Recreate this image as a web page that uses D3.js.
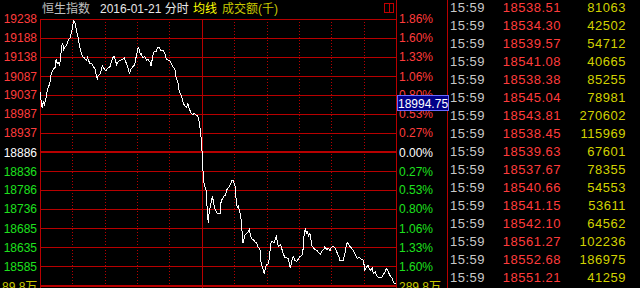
<!DOCTYPE html>
<html>
<head>
<meta charset="utf-8">
<script src="https://cdn.jsdelivr.net/npm/d3@7"></script>
<style>
  html, body { margin: 0; padding: 0; background: #000; }
  svg { display: block; }
  text { font-family: "Liberation Sans", Arial, "Noto Sans CJK SC", sans-serif; }
</style>
</head>
<body>
<div id="chart"></div>
<script>
// 분시 데이터 (09:30 이후 거래 분, 지수)
const prevClose = 18886.3;
const priceLine = [
  [0, 19044], [2, 19002], [3, 19020], [4, 19011], [6, 19035], [7, 19053], [9, 19066], [10, 19088],
  [12, 19103], [14, 19110], [15, 19132], [16, 19120], [17, 19123], [18, 19117], [19, 19129], [20, 19167],
  [21, 19173], [22, 19158], [23, 19163], [25, 19170], [26, 19180], [27, 19185], [28, 19189], [30, 19211],
  [31, 19233], [32, 19231], [33, 19220], [34, 19202], [35, 19194], [36, 19176], [37, 19163], [38, 19150],
  [40, 19136], [41, 19135], [43, 19128], [44, 19136], [46, 19121], [48, 19119], [49, 19114], [51, 19106],
  [52, 19092], [53, 19079], [54, 19088], [56, 19094], [57, 19106], [58, 19114], [60, 19103], [61, 19101],
  [63, 19108], [65, 19112], [66, 19123], [68, 19138], [69, 19138], [71, 19117], [72, 19123], [74, 19128],
  [75, 19129], [77, 19132], [78, 19135], [80, 19121], [82, 19106], [83, 19092], [84, 19103], [85, 19108],
  [87, 19114], [88, 19119], [89, 19136], [91, 19163], [92, 19158], [93, 19145], [94, 19147], [95, 19136],
  [97, 19138], [99, 19129], [100, 19132], [102, 19123], [103, 19114], [105, 19147], [106, 19152], [108, 19152],
  [109, 19163], [111, 19161], [112, 19154], [114, 19156], [116, 19145], [117, 19132], [119, 19129], [120, 19128],
  [122, 19119], [123, 19112], [125, 19106], [126, 19084], [128, 19068], [129, 19047], [131, 19035], [133, 19015],
  [134, 19009], [136, 19004], [137, 19015], [138, 19003], [139, 18996], [140, 18989], [142, 18985], [143, 18989],
  [145, 18982], [146, 18982], [147, 18975], [148, 18958], [149, 18936], [150, 18900], [151, 18839], [152, 18804],
  [153, 18793], [154, 18786], [155, 18733], [156, 18698], [157, 18733], [158, 18742], [159, 18760], [160, 18767],
  [161, 18751], [162, 18738], [163, 18731], [164, 18726], [165, 18723], [167, 18724], [168, 18760], [169, 18761],
  [170, 18768], [172, 18773], [173, 18786], [175, 18793], [176, 18799], [178, 18811], [179, 18812], [180, 18804],
  [181, 18795], [182, 18751], [183, 18740], [184, 18744], [185, 18729], [186, 18720], [187, 18689], [188, 18645],
  [189, 18654], [190, 18667], [192, 18672], [193, 18676], [194, 18682], [195, 18667], [196, 18658], [198, 18654],
  [199, 18650], [201, 18645], [202, 18636], [204, 18628], [205, 18592], [207, 18575], [208, 18564], [209, 18584],
  [210, 18588], [212, 18592], [213, 18619], [214, 18645], [215, 18650], [217, 18647], [218, 18654], [219, 18663],
  [220, 18650], [221, 18636], [223, 18641], [224, 18632], [226, 18614], [227, 18608], [229, 18606], [230, 18606],
  [232, 18579], [233, 18592], [234, 18606], [235, 18610], [236, 18601], [238, 18597], [240, 18606], [241, 18610],
  [243, 18614], [244, 18632], [245, 18676], [246, 18682], [247, 18672], [248, 18676], [249, 18663], [250, 18673],
  [251, 18658], [252, 18638], [253, 18635], [255, 18628], [257, 18626], [258, 18620], [260, 18617], [261, 18623],
  [263, 18629], [264, 18636], [266, 18628], [267, 18632], [269, 18626], [270, 18635], [272, 18636], [274, 18632],
  [275, 18623], [277, 18610], [278, 18599], [280, 18599], [281, 18599], [283, 18623], [284, 18643], [285, 18647],
  [287, 18638], [288, 18635], [290, 18628], [291, 18623], [293, 18612], [294, 18605], [296, 18608], [298, 18603],
  [299, 18603], [300, 18597], [301, 18575], [303, 18583], [304, 18588], [306, 18573], [308, 18579], [309, 18566],
  [311, 18570], [312, 18559], [314, 18555], [315, 18555], [317, 18555], [318, 18561], [320, 18570], [321, 18579],
  [323, 18570], [324, 18561], [326, 18555], [328, 18541], [329, 18538], [330, 18541]
];

// 축 라벨
const priceTicks = [19238, 19188, 19138, 19087, 19037, 18987, 18937, 18886, 18836, 18786, 18736, 18685, 18635, 18585];
const pctTicks = ["1.86%", "1.60%", "1.33%", "1.06%", "0.80%", "0.53%", "0.27%", "0.00%",
  "0.27%", "0.53%", "0.80%", "1.06%", "1.33%", "1.60%"];
const timeGrid = [0, 30, 60, 90, 120, 150, 180, 210, 240, 270, 300, 330];
const volLabel = "89.8万";
const volLabelRight = "289.8万";
const cursorPrice = 18994.75;

// 오른쪽 체결 내역
const tradeTimes = ["15:59", "15:59", "15:59", "15:59", "15:59", "15:59", "15:59", "15:59",
  "15:59", "15:59", "15:59", "15:59", "15:59", "15:59", "15:59", "15:59"];
const tradePrices = ["18538.51", "18534.30", "18539.57", "18541.08", "18538.38", "18545.04", "18543.81", "18538.45",
  "18539.63", "18537.67", "18540.66", "18541.15", "18542.10", "18561.27", "18552.68", "18551.21"];
const tradeVolumes = ["81063", "42502", "54712", "40665", "85255", "78981", "270602", "115969",
  "67601", "78355", "54553", "53611", "64562", "102236", "186975", "41259"];

const width = 640, height = 288;
const plotLeft = 40, plotRight = 396, plotTop = 19, plotBottom = 285;
const gridRed = "#b80000";
const upRed = "#ff3c3c";
const downGreen = "#1ee01e";

const svg = d3.select("#chart").append("svg")
  .attr("width", width).attr("height", height)
  .style("background", "#000");

const maxDev = prevClose * 0.0186;
const x = d3.scaleLinear().domain([0, 330]).range([plotLeft, plotRight]);
const y = d3.scaleLinear().domain([prevClose - maxDev, prevClose + maxDev]).range([plotBottom, plotTop]);

// 수평 그리드
svg.append("g").selectAll("line")
  .data(priceTicks)
  .join("line")
  .attr("x1", plotLeft).attr("x2", plotRight)
  .attr("y1", (d, i) => Math.round(y(d)) + (i === 7 ? 0 : 0.5))
  .attr("y2", (d, i) => Math.round(y(d)) + (i === 7 ? 0 : 0.5))
  .attr("stroke", gridRed)
  .attr("stroke-width", (d, i) => (i === 7 ? 2 : 1));

// 하단 굵은선
svg.append("line")
  .attr("x1", plotLeft).attr("x2", plotRight)
  .attr("y1", plotBottom + 1).attr("y2", plotBottom + 1)
  .attr("stroke", gridRed).attr("stroke-width", 2);

// 수직 그리드 (30분 간격, 점선)
svg.append("g").selectAll("line")
  .data(timeGrid)
  .join("line")
  .attr("x1", (d) => Math.round(x(d)) + 0.5)
  .attr("x2", (d) => Math.round(x(d)) + 0.5)
  .attr("y1", (d) => (d === 330 ? 0 : plotTop))
  .attr("y2", height)
  .attr("stroke", gridRed)
  .attr("stroke-width", 1)
  .attr("stroke-dasharray", (d) => (d === 0 || d === 150 || d === 330 ? null : "1,2"));

// 오른쪽 패널 경계
svg.append("line")
  .attr("x1", 447.5).attr("x2", 447.5)
  .attr("y1", 0).attr("y2", height)
  .attr("stroke", gridRed);

// 가격선
const line = d3.line()
  .x((d) => x(d[0]))
  .y((d) => y(d[1]));

svg.append("path")
  .datum(priceLine)
  .attr("d", line)
  .attr("fill", "none")
  .attr("stroke", "#ffffff")
  .attr("stroke-width", 1)
  .attr("shape-rendering", "crispEdges");

// 왼쪽 가격 라벨
svg.append("g").selectAll("text")
  .data(priceTicks)
  .join("text")
  .attr("x", 37)
  .attr("y", (d) => y(d) + 4.5)
  .attr("text-anchor", "end")
  .attr("font-size", 12)
  .attr("fill", (d, i) => (i < 7 ? upRed : i === 7 ? "#ffffff" : downGreen))
  .text((d) => d);

// 오른쪽 퍼센트 라벨
svg.append("g").selectAll("text")
  .data(pctTicks)
  .join("text")
  .attr("x", 399)
  .attr("y", (d, i) => y(priceTicks[i]) + 4.5)
  .attr("font-size", 12)
  .attr("fill", (d, i) => (i < 7 ? upRed : i === 7 ? "#ffffff" : downGreen))
  .text((d) => d);

// 커서 가격 박스
const cy = y(cursorPrice);
svg.append("rect")
  .attr("x", 397.5).attr("y", Math.round(cy) - 15.5)
  .attr("width", 51).attr("height", 15)
  .attr("fill", "#000088")
  .attr("stroke", "#6a6aff");
svg.append("text")
  .attr("x", 398).attr("y", Math.round(cy) - 3)
  .attr("font-size", 12)
  .attr("fill", "#ffffff")
  .text(cursorPrice.toFixed(2));

// 거래량 라벨
svg.append("text")
  .attr("x", 2).attr("y", 291)
  .attr("font-size", 12).attr("fill", "#c8c800")
  .text(volLabel);
svg.append("text")
  .attr("x", 399).attr("y", 291)
  .attr("font-size", 12).attr("fill", "#c8c800")
  .text(volLabelRight);

// 제목
const title = svg.append("g").attr("font-size", 12);
title.append("text").attr("x", 42).attr("y", 13).attr("fill", "#c0c0c0").text("恒生指数");
title.append("text").attr("x", 100).attr("y", 13).attr("fill", "#e8e8e8").text("2016-01-21 分时");
title.append("text").attr("x", 193).attr("y", 13).attr("fill", "#ffff00").text("均线");
title.append("text").attr("x", 222).attr("y", 13).attr("fill", "#c8c800").text("成交额(千)");

// 우측 상단 아이콘
svg.append("rect")
  .attr("x", 384.5).attr("y", 3.5).attr("width", 9).attr("height", 9)
  .attr("fill", "none").attr("stroke", "#c00000");
svg.append("line")
  .attr("x1", 389.5).attr("x2", 389.5).attr("y1", 3.5).attr("y2", 12.5)
  .attr("stroke", "#c00000");

// 체결 내역 패널
const rows = svg.append("g").attr("font-size", 13).attr("letter-spacing", "0.5px");
rows.selectAll(".t")
  .data(tradeTimes)
  .join("text")
  .attr("class", "t")
  .attr("x", 450)
  .attr("y", (d, i) => 12.3 + i * 18)
  .attr("fill", "#c8c8c8")
  .text((d) => d);
rows.selectAll(".p")
  .data(tradePrices)
  .join("text")
  .attr("class", "p")
  .attr("x", 561)
  .attr("y", (d, i) => 12.3 + i * 18)
  .attr("text-anchor", "end")
  .attr("fill", upRed)
  .text((d) => d);
rows.selectAll(".v")
  .data(tradeVolumes)
  .join("text")
  .attr("class", "v")
  .attr("x", 626)
  .attr("y", (d, i) => 12.3 + i * 18)
  .attr("text-anchor", "end")
  .attr("fill", "#d2d200")
  .text((d) => d);
</script>
</body>
</html>
